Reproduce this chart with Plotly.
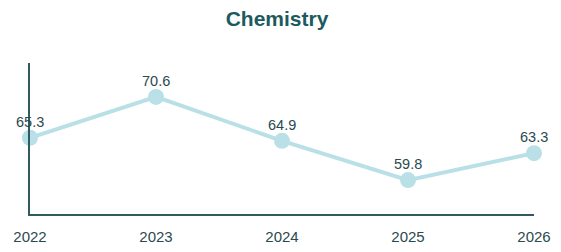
import plotly.graph_objects as go

years = [2022, 2023, 2024, 2025, 2026]
values = [65.3, 70.6, 64.9, 59.8, 63.3]
tick_labels = ["2022", "2023", "2024", "2025", "2026"]

FONT = "Liberation Sans, Arial"

fig = go.Figure()
fig.add_trace(go.Scatter(
    x=years, y=values, mode="lines+markers",
    line=dict(color="#b9e0e6", width=4),
    marker=dict(color="#b9e0e6", size=16),
    cliponaxis=False,
    hoverinfo="skip",
))

for x, v in zip(years, values):
    fig.add_annotation(x=x, y=v, text=f"{v:.1f}", showarrow=False,
                       yanchor="middle", xanchor="center", yshift=16,
                       font=dict(family=FONT, size=14.5, color="#2b4a50"))

fig.update_layout(
    width=561, height=252,
    margin=dict(l=22, r=35, t=55, b=46, autoexpand=False),
    paper_bgcolor="white", plot_bgcolor="white",
    showlegend=False,
    title=dict(text="<b>Chemistry</b>", x=269 / 561, xanchor="center", y=1 - 11 / 252, yanchor="middle",
               font=dict(family=FONT, size=21, color="#1d5a5f")),
    xaxis=dict(range=[2022, 2026], tickvals=years, ticktext=tick_labels, automargin=False,
               showgrid=False, zeroline=False, showline=True, linecolor="#2f5a60", linewidth=1.5,
               ticks="", ticklabelstandoff=8,
               tickfont=dict(family=FONT, size=15, color="#2b4a50")),
    yaxis=dict(range=[55.4, 75.0], showticklabels=False, showgrid=False, zeroline=False, automargin=False,
               showline=True, linecolor="#2f5a60", linewidth=1.5, ticks=""),
)

fig.write_html("out.html")
